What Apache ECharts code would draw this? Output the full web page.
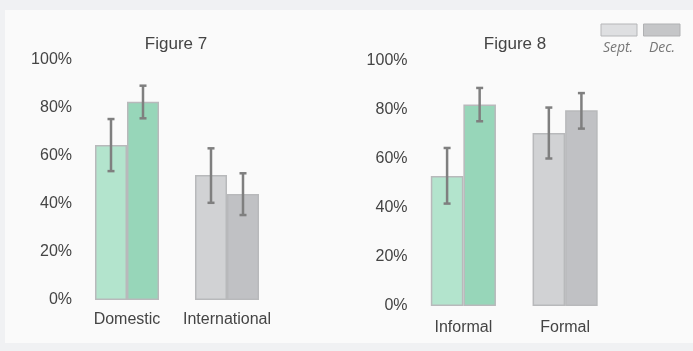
<!DOCTYPE html>
<html>
<head>
<meta charset="utf-8">
<script src="https://cdn.jsdelivr.net/npm/echarts@6/dist/echarts.min.js"></script>
<style>
  html, body { margin: 0; padding: 0; background: #f0f1f3; }
  #wrap { position: absolute; left: 5px; top: 10px; width: 688px; height: 333px; background: #fafafa; }
  #chart { position: absolute; left: 0; top: 0; width: 693px; height: 351px; }
</style>
</head>
<body>
<div id="wrap"></div>
<div id="chart"></div>
<script>
// Figure 7: domestic vs international
const categories7 = ['Domestic', 'International'];
const sept7 = [64.6, 52.1];
const dec7 = [82.6, 44.2];
const sept7Low = [53.7, 40.5];
const sept7High = [75.4, 63.2];
const dec7Low = [75.7, 35.4];
const dec7High = [89.3, 52.8];

// Figure 8: informal vs formal
const categories8 = ['Informal', 'Formal'];
const sept8 = [53.1, 70.6];
const dec8 = [82.2, 79.9];
const sept8Low = [41.8, 60.2];
const sept8High = [64.5, 81.0];
const dec8Low = [75.4, 72.4];
const dec8High = [89.0, 86.9];

const yTicks = [0, 20, 40, 60, 80, 100];

const FONT = '"Liberation Sans", Arial, sans-serif';
const septColors = ['#b3e4cd', '#d1d2d4'];
const decColors = ['#97d6b9', '#c0c1c4'];
const BORDER = '#b8b9bb';
const GAP = 0.36;

function barSeries(name, values, colors, idx) {
  return {
    name: name,
    type: 'bar',
    xAxisIndex: idx,
    yAxisIndex: idx,
    barGap: '0%',
    barCategoryGap: (GAP * 100) + '%',
    data: values.map((v, i) => ({
      value: v,
      itemStyle: { color: colors[i], borderColor: BORDER, borderWidth: 1.5 }
    })),
    emphasis: { disabled: true },
    z: 2
  };
}

function errorSeries(lows, highs, side, idx) {
  return {
    type: 'custom',
    xAxisIndex: idx,
    yAxisIndex: idx,
    z: 5,
    silent: true,
    data: lows.map((lo, i) => [i, lo, highs[i]]),
    encode: { x: 0, y: [1, 2] },
    renderItem: function (params, api) {
      const c = api.value(0);
      const band = api.size([1, 0])[0];
      const bw = band * (1 - GAP) / 2;
      const cx = api.coord([c, 0])[0] + side * bw / 2;
      const yLo = api.coord([c, api.value(1)])[1];
      const yHi = api.coord([c, api.value(2)])[1];
      const cap = 3.5;
      const style = { stroke: '#7f7f7f', lineWidth: 2.5 };
      return {
        type: 'group',
        children: [
          { type: 'line', shape: { x1: cx, y1: yLo, x2: cx, y2: yHi }, style: style },
          { type: 'line', shape: { x1: cx - cap, y1: yHi, x2: cx + cap, y2: yHi }, style: style },
          { type: 'line', shape: { x1: cx - cap, y1: yLo, x2: cx + cap, y2: yLo }, style: style }
        ]
      };
    }
  };
}

function xAxis(cats, idx, margin) {
  return {
    type: 'category',
    gridIndex: idx,
    data: cats,
    axisLine: { show: false },
    axisTick: { show: false },
    axisLabel: { color: '#444', fontFamily: FONT, fontSize: 16, margin: margin, interval: 0, hideOverlap: false }
  };
}

function yAxis(idx) {
  return {
    type: 'value',
    gridIndex: idx,
    min: yTicks[0],
    max: yTicks[yTicks.length - 1],
    interval: yTicks[1] - yTicks[0],
    splitLine: { show: false },
    axisLine: { show: false },
    axisTick: { show: false },
    axisLabel: { color: '#444', fontFamily: FONT, fontSize: 16, margin: 5, formatter: '{value}%' }
  };
}

const chart = echarts.init(document.getElementById('chart'), null, { renderer: 'canvas' });
chart.setOption({
  backgroundColor: 'transparent',
  animation: false,
  grid: [
    { left: 77, top: 60, width: 200, height: 240 },
    { left: 412.5, top: 61, width: 203.5, height: 245 }
  ],
  xAxis: [xAxis(categories7, 0, 12), xAxis(categories8, 1, 14)],
  yAxis: [yAxis(0), yAxis(1)],
  series: [
    barSeries('Sept.', sept7, septColors, 0),
    barSeries('Dec.', dec7, decColors, 0),
    barSeries('Sept.', sept8, septColors, 1),
    barSeries('Dec.', dec8, decColors, 1),
    errorSeries(sept7Low, sept7High, -1, 0),
    errorSeries(dec7Low, dec7High, 1, 0),
    errorSeries(sept8Low, sept8High, -1, 1),
    errorSeries(dec8Low, dec8High, 1, 1)
  ],
  graphic: [
    { type: 'text', x: 176, y: 44, style: { text: 'Figure 7', fill: '#444', font: '17px ' + FONT, textAlign: 'center', textVerticalAlign: 'middle' } },
    { type: 'text', x: 515, y: 44, style: { text: 'Figure 8', fill: '#444', font: '17px ' + FONT, textAlign: 'center', textVerticalAlign: 'middle' } },
    { type: 'rect', shape: { x: 601, y: 24, width: 36, height: 12 }, style: { fill: '#dedfe1', stroke: '#b5b6b8', lineWidth: 1 } },
    { type: 'rect', shape: { x: 643.5, y: 24, width: 36.5, height: 12 }, style: { fill: '#c5c6c8', stroke: '#b0b1b3', lineWidth: 1 } },
    { type: 'text', x: 618, y: 48, style: { text: 'Sept.', fill: '#777', font: 'italic 14px "Open Sans", sans-serif', textAlign: 'center', textVerticalAlign: 'middle' } },
    { type: 'text', x: 662, y: 48, style: { text: 'Dec.', fill: '#777', font: 'italic 14px "Open Sans", sans-serif', textAlign: 'center', textVerticalAlign: 'middle' } }
  ]
});
</script>
</body>
</html>
